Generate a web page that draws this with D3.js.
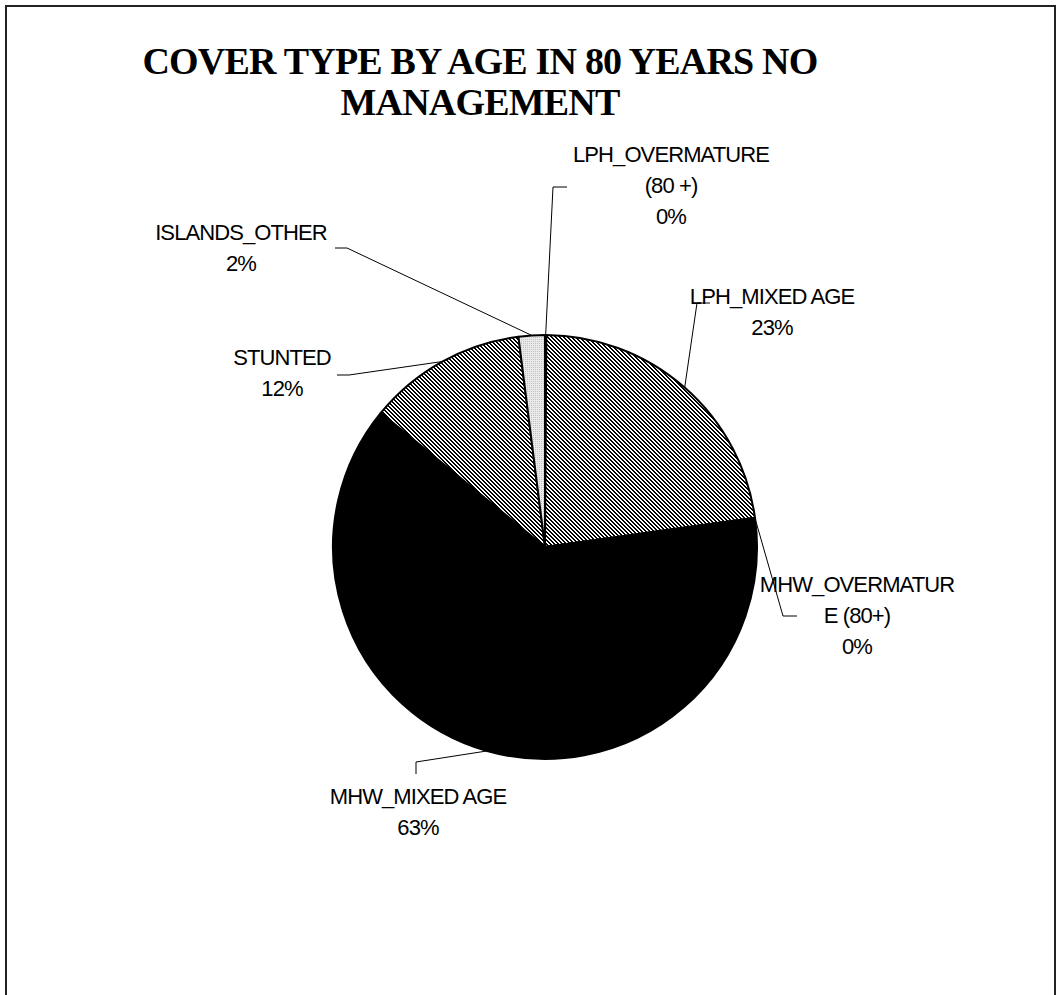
<!DOCTYPE html>
<html>
<head>
<meta charset="utf-8">
<script src="https://cdn.jsdelivr.net/npm/d3@7"></script>
<style>
  body { margin: 0; background: #fff; }
  svg { display: block; }
  .lbl { font-family: "Liberation Sans", Arial, sans-serif; font-size: 22px; letter-spacing: -0.9px; fill: #000; }
  .title { font-family: "Liberation Serif", "Times New Roman", serif; font-weight: bold; font-size: 38px; letter-spacing: -0.8px; fill: #000; }
</style>
</head>
<body>
<svg id="chart" width="1061" height="995"></svg>
<script>
// slices, clockwise from 12 o'clock
var categories = ["LPH_OVERMATURE (80 +)", "LPH_MIXED AGE", "MHW_OVERMATURE (80+)", "MHW_MIXED AGE", "STUNTED", "ISLANDS_OTHER"];
var values = [0.1, 22.7, 0.1, 63.0, 12.1, 2.0];
// label text lines as wrapped in the picture
var labelLines = [["LPH_OVERMATURE", "(80 +)"], ["LPH_MIXED AGE"], ["MHW_OVERMATUR", "E (80+)"], ["MHW_MIXED AGE"], ["STUNTED"], ["ISLANDS_OTHER"]];
var titleLines = ["COVER TYPE BY AGE IN 80 YEARS NO", "MANAGEMENT"];

// layout for each label: text centre x, first line y, leader elbow and end
var labelLayout = [
  {x: 671, y: 162, elbow: [553, 187], end: [567, 187]},
  {x: 772, y: 304, elbow: [697, 303], end: [710, 303]},
  {x: 857, y: 592, elbow: [783, 616], end: [797, 616]},
  {x: 418, y: 804, elbow: [416, 762], end: [416, 774]},
  {x: 282, y: 365, elbow: [349, 375], end: [337, 375]},
  {x: 241, y: 240, elbow: [347, 248], end: [335, 248]}
];
var fills = ["#fff", "url(#hatch)", "#fff", "#000", "url(#hatch)", "url(#dots)"];

var svg = d3.select("#chart");
var cx = 545, cy = 547, r = 212, lineH = 31;

var defs = svg.append("defs");
// 50% diagonal hatch, one pixel at a time
var hatch = defs.append("pattern").attr("id", "hatch").attr("patternUnits", "userSpaceOnUse")
  .attr("width", 4).attr("height", 4);
hatch.append("rect").attr("width", 4).attr("height", 4).attr("fill", "#fff");
[[0,0],[1,0],[1,1],[2,1],[2,2],[3,2],[3,3],[0,3]].forEach(function(p){
  hatch.append("rect").attr("x", p[0]).attr("y", p[1]).attr("width", 1).attr("height", 1)
    .attr("fill", "#000").attr("shape-rendering", "crispEdges");
});
var dots = defs.append("pattern").attr("id", "dots").attr("patternUnits", "userSpaceOnUse")
  .attr("width", 2).attr("height", 2);
dots.append("rect").attr("width", 2).attr("height", 2).attr("fill", "#eaeaea");
dots.append("rect").attr("width", 1).attr("height", 1).attr("fill", "#c0c0c0");

// chart area frame
svg.append("path").attr("d", "M6,995 L6,6 L1055,6 L1055,995")
  .attr("fill", "none").attr("stroke", "#222").attr("stroke-width", 2);

svg.selectAll("text.title").data(titleLines).enter().append("text")
  .attr("class", "title").attr("text-anchor", "middle")
  .attr("x", 480).attr("y", function(d, i){ return 74 + i * 41; })
  .text(function(d){ return d; });

var total = d3.sum(values);
var pie = d3.pie().sort(null).value(function(d){ return d; });
var arcs = pie(values);
var arc = d3.arc().innerRadius(0).outerRadius(r);

var g = svg.append("g").attr("transform", "translate(" + cx + "," + cy + ")");
g.selectAll("path").data(arcs).enter().append("path")
  .attr("d", arc)
  .attr("fill", function(d, i){ return fills[i]; })
  .attr("stroke", "#000").attr("stroke-width", 2).attr("stroke-linejoin", "round");

function edgePoint(d){
  var a = (d.startAngle + d.endAngle) / 2;
  return [cx + r * Math.sin(a), cy - r * Math.cos(a)];
}

svg.selectAll("polyline.leader").data(arcs).enter().append("polyline")
  .attr("class", "leader")
  .attr("points", function(d, i){
    var p = edgePoint(d), L = labelLayout[i];
    return [p, L.elbow, L.end].map(function(q){ return q.join(","); }).join(" ");
  })
  .attr("fill", "none").attr("stroke", "#000").attr("stroke-width", 1);

var labels = svg.selectAll("text.lbl").data(arcs).enter().append("text")
  .attr("class", "lbl").attr("text-anchor", "middle");
labels.each(function(d, i){
  var t = d3.select(this), L = labelLayout[i];
  var lines = labelLines[i].concat([Math.round(d.value / total * 100) + "%"]);
  lines.forEach(function(s, k){
    t.append("tspan").attr("x", L.x).attr("y", L.y + k * lineH).text(s);
  });
});
</script>
</body>
</html>
